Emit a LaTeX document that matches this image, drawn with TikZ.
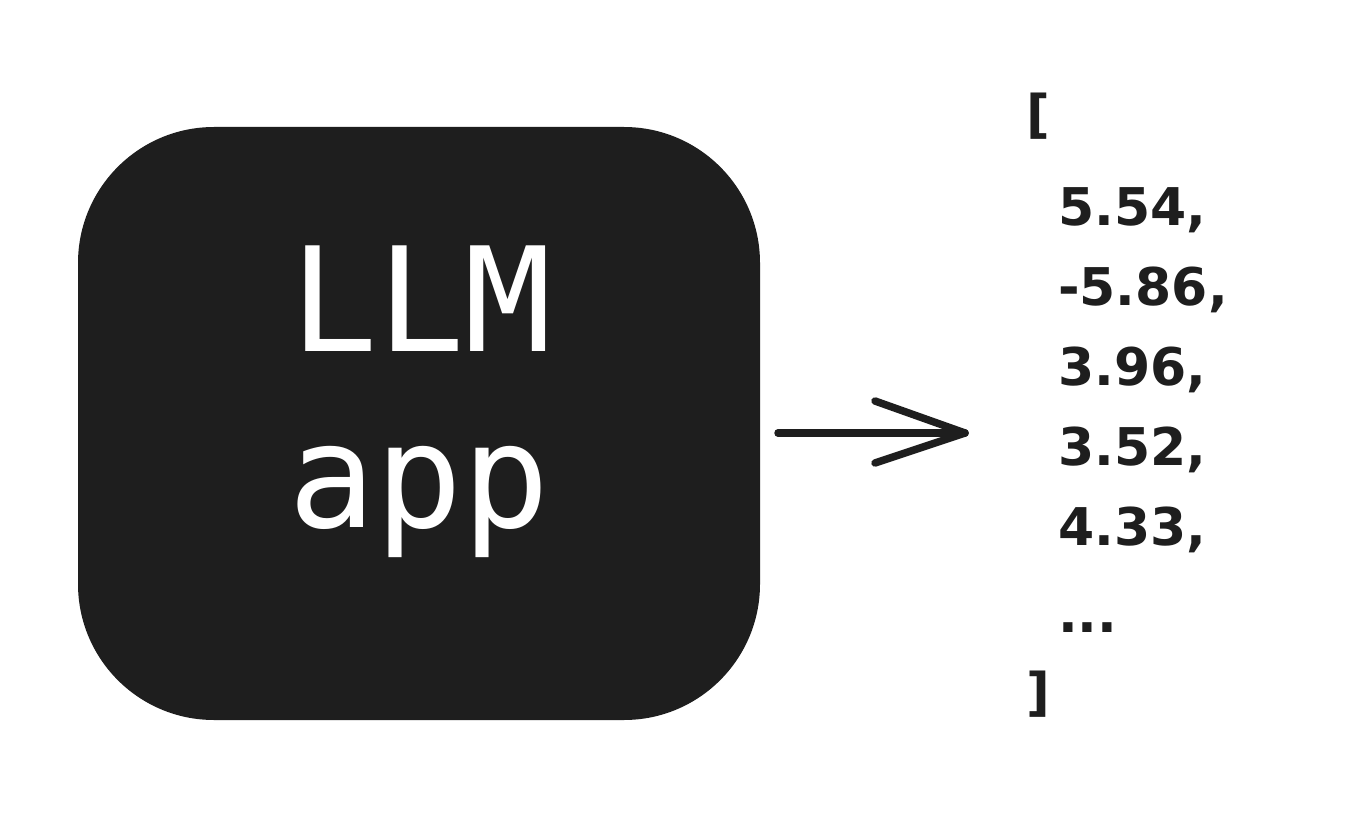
\documentclass[tikz,border=0pt]{standalone}
\usepackage{fontspec}
\setmainfont{DejaVu Sans}
\newfontfamily\monofnt{DejaVu Sans Mono}
\definecolor{ink}{HTML}{1E1E1E}
\tikzset{
  box/.style={fill=ink, draw=none, rounded corners=136pt, minimum width=682pt, minimum height=593pt, inner sep=0pt},
  big/.style={text=white, font=\monofnt\fontsize{145}{145}\selectfont, inner sep=0pt, anchor=base},
  val/.style={text=ink, font=\bfseries\fontsize{52}{52}\selectfont, inner sep=0pt, anchor=base west},
  conn/.style={draw=ink, line width=7.5pt, line cap=round, line join=round}
}
\begin{document}
\begin{tikzpicture}[x=1pt,y=-1pt]
\useasboundingbox (0,0) rectangle (1358,824);
\fill[white] (0,0) rectangle (1358,824);
\node[box] (box) at (419,423.5) {};
\node[big] (llm) at (421,351) {LLM};
\node[big] (app) at (419,527) {app};
\node[val] (lb) at (1026,133) {[};
\node[val] (v1) at (1058,225) {5.54,};
\node[val] (v2) at (1058,305) {-5.86,};
\node[val] (v3) at (1058,385) {3.96,};
\node[val] (v4) at (1058,465) {3.52,};
\node[val] (v5) at (1058,545) {4.33,};
\node[val] (v6) at (1058,632) {...};
\node[val] (rb) at (1026,710) {]};
\coordinate (start) at (778,433);
\coordinate (tip) at (965,433);
\coordinate (h1) at (875,401);
\coordinate (h2) at (875,463);
\draw[conn] (start) -- (tip);
\draw[conn] (h1) -- (tip) -- (h2);
\end{tikzpicture}
\end{document}
